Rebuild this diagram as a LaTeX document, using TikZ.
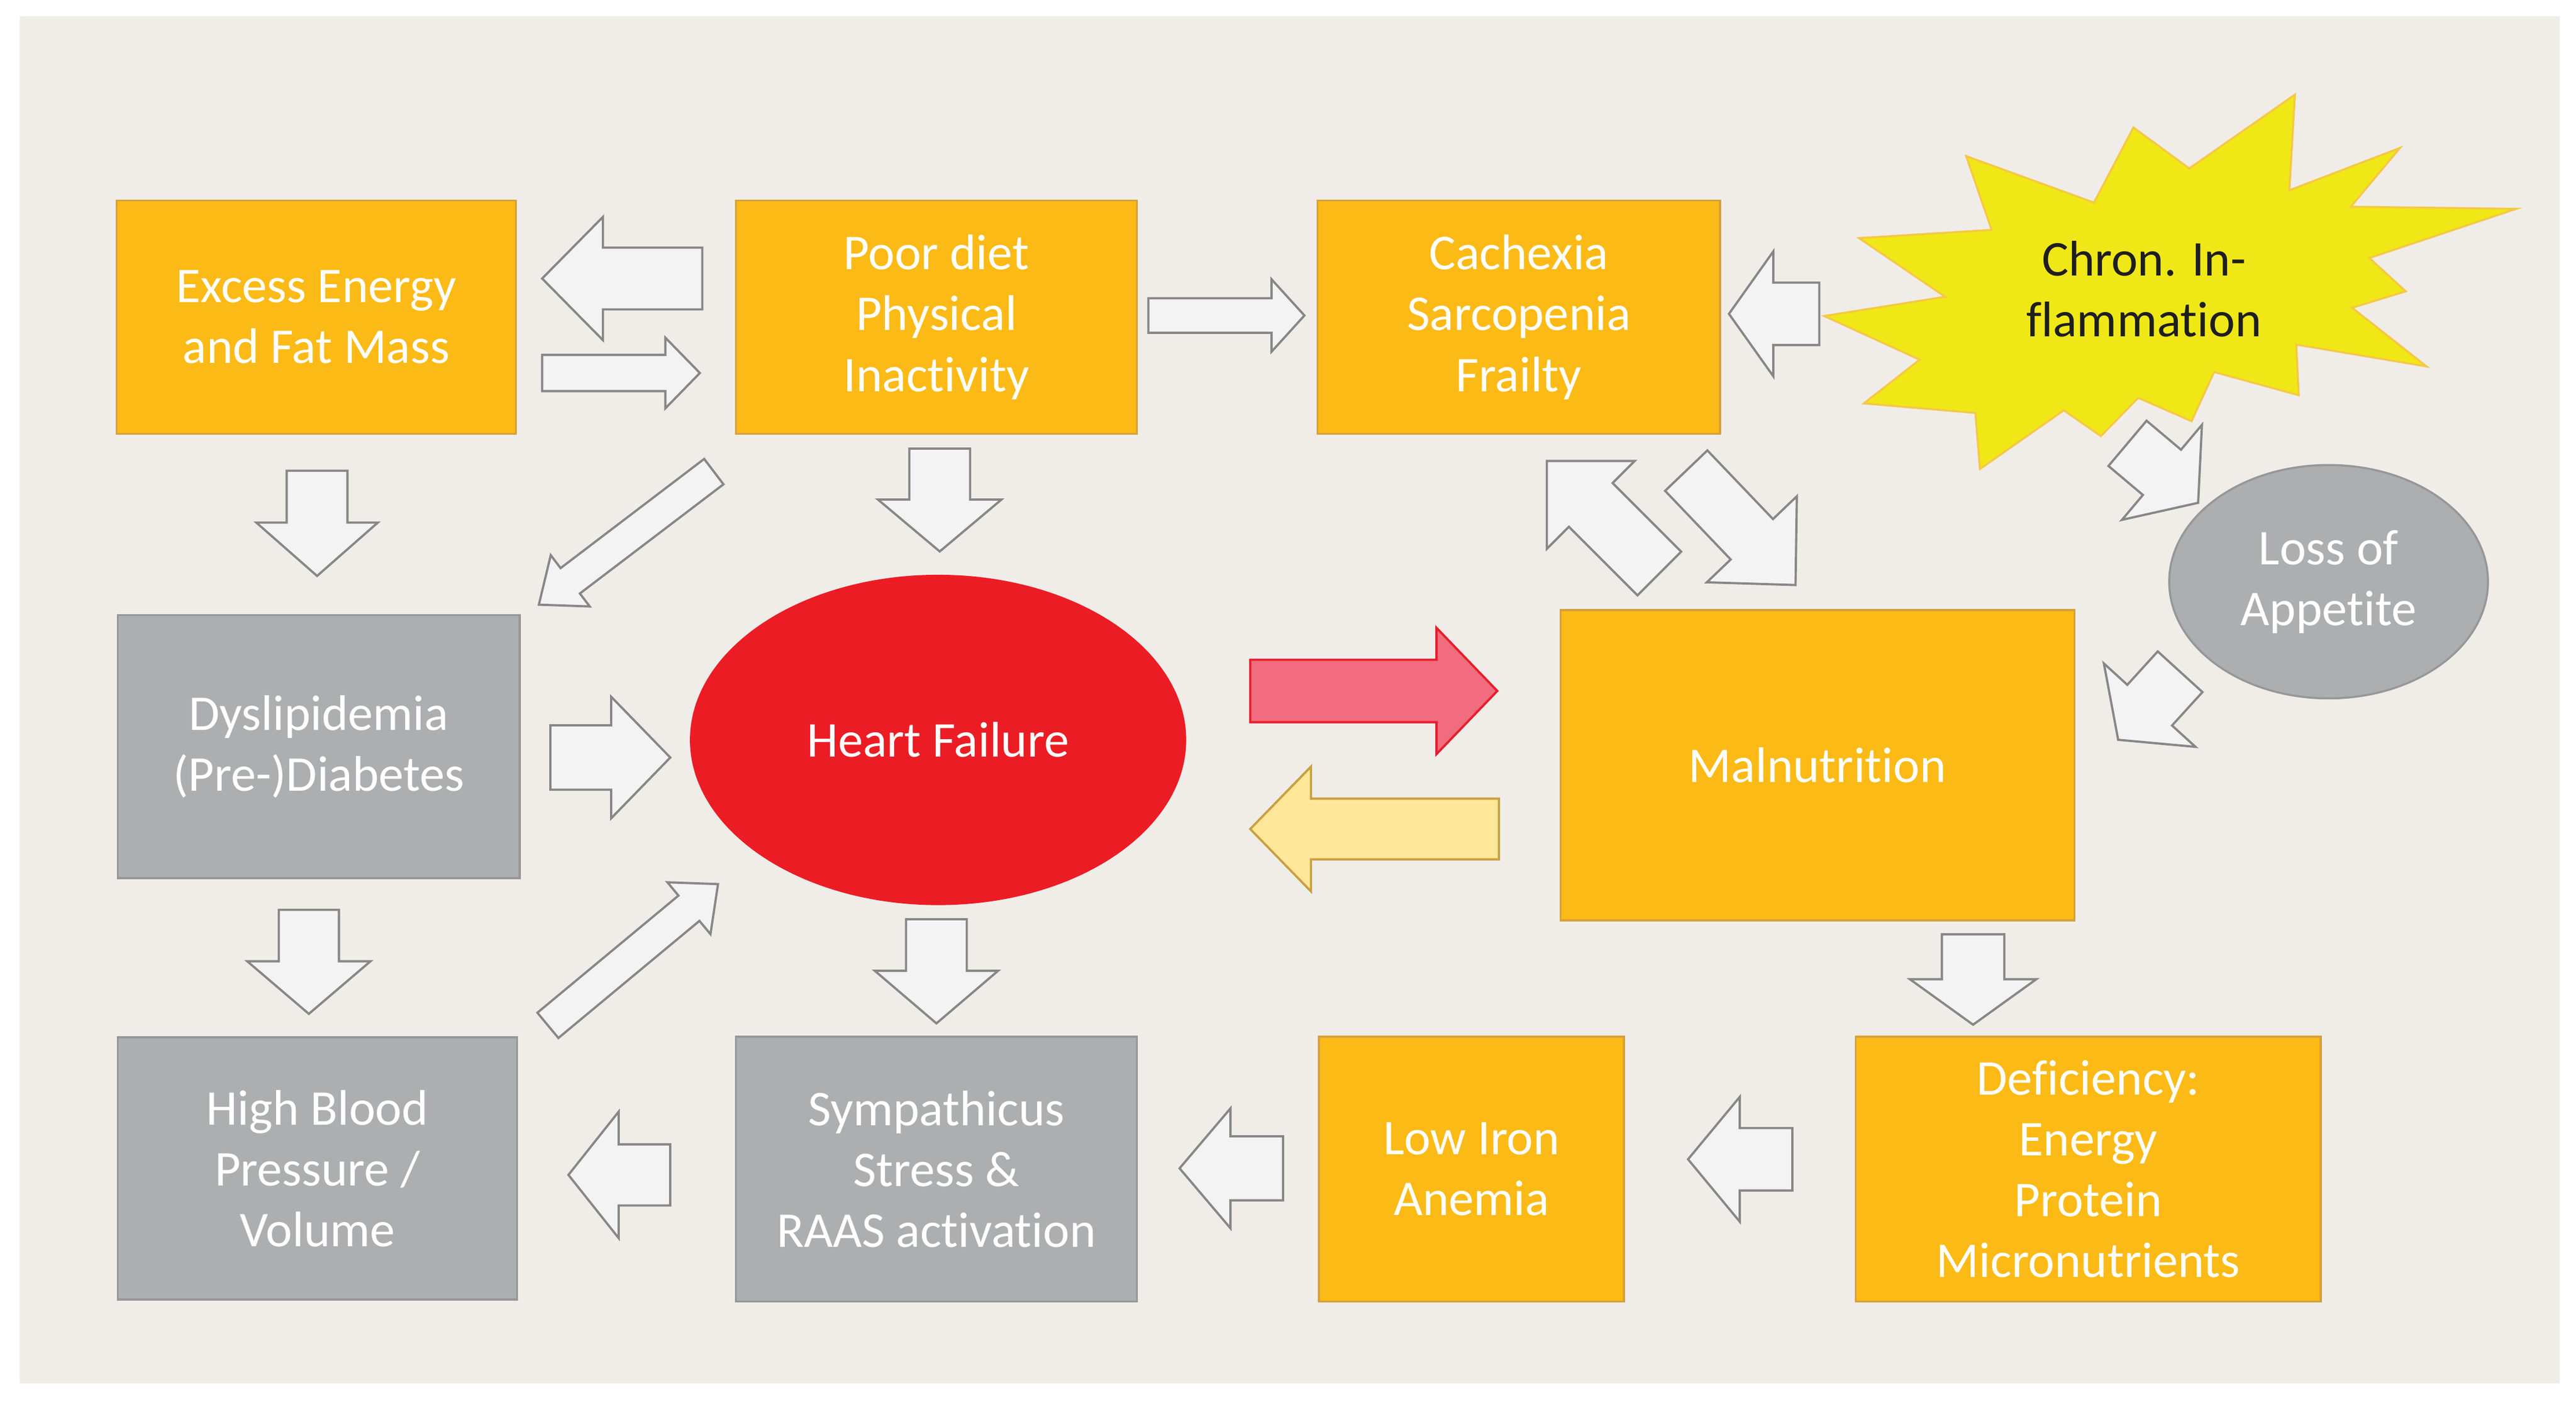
\documentclass[tikz,border=0pt]{standalone}
\usepackage{fontspec}
\setmainfont{Carlito}[Ligatures=NoCommon]
\usetikzlibrary{shapes.geometric}
\definecolor{bgcol}{RGB}{240,237,233}
\definecolor{orangefill}{RGB}{252,186,22}
\definecolor{orangeline}{RGB}{214,160,60}
\definecolor{grayfill}{RGB}{173,174,176}
\definecolor{grayline}{RGB}{150,151,153}
\definecolor{hfred}{RGB}{236,28,36}
\definecolor{arrfill}{RGB}{243,243,243}
\definecolor{arrline}{RGB}{135,135,135}
\definecolor{pinkfill}{RGB}{240,108,126}
\definecolor{pinkline}{RGB}{232,30,45}
\definecolor{lightyel}{RGB}{255,230,153}
\definecolor{yelline}{RGB}{200,160,64}
\definecolor{starfill}{RGB}{240,232,22}
\definecolor{starline}{RGB}{245,200,70}
\definecolor{darktext}{RGB}{30,30,30}
% block arrow: style, tail x, tail y, angle, length, shaft half, head half, head length
\newcommand\blockarr[8]{%
  \begin{scope}[shift={(#2,#3)},rotate=#4]
    \filldraw[#1] (0,-#6) -- ({#5-#8},-#6) -- ({#5-#8},-#7) -- (#5,0) -- ({#5-#8},#7) -- ({#5-#8},#6) -- (0,#6) -- cycle;
  \end{scope}}
\begin{document}
\begin{tikzpicture}[x=0.028387cm,y=-0.028387cm,
  txt/.style={font=\fontsize{24.6pt}{29.9pt}\selectfont, align=center, text=white, inner sep=0pt, outer sep=0pt},
  obox/.style={txt, rectangle, fill=orangefill, draw=orangeline, line width=1pt},
  gbox/.style={txt, rectangle, fill=grayfill, draw=grayline, line width=1pt},
  garrow/.style={fill=arrfill, draw=arrline, line width=1.1pt},
  rarrow/.style={fill=pinkfill, draw=pinkline, line width=1.1pt},
  yarrow/.style={fill=lightyel, draw=yelline, line width=1.1pt}]
\useasboundingbox (0,0) rectangle (1568,853.2);
\fill[white] (0,0) rectangle (1568,853.2);
\fill[bgcol] (12,10) rectangle (1558,842);

% boxes
\node[obox, minimum width=6.898cm, minimum height=4.031cm] (excess) at (192.5,193) {Excess Energy\\and Fat Mass};
\node[obox, minimum width=6.926cm, minimum height=4.031cm] (poor) at (570,193) {Poor diet\\Physical\\Inactivity};
\node[obox, minimum width=6.955cm, minimum height=4.031cm] (cach) at (924.5,193) {Cachexia\\Sarcopenia\\Frailty};
\node[gbox, minimum width=6.943cm, minimum height=4.542cm] (dysl) at (194,454.3) {Dyslipidemia\\(Pre-)Diabetes};
\node[gbox, minimum width=6.898cm, minimum height=4.528cm] (hbp) at (193.2,711.1) {High Blood\\Pressure /\\Volume};
\node[gbox, minimum width=6.926cm, minimum height=4.570cm] (symp) at (570,711.5) {Sympathicus\\Stress \&\\RAAS activation};
\node[obox, minimum width=5.266cm, minimum height=4.570cm] (iron) at (895.7,711.5) {Low Iron\\Anemia};
\node[obox, minimum width=8.034cm, minimum height=4.570cm] (defi) at (1271.1,711.5) {Deficiency:\\Energy\\Protein\\Micronutrients};
\node[obox, minimum width=8.877cm, minimum height=5.357cm] (maln) at (1106.3,465.7) {Malnutrition};
\node[txt, ellipse, fill=hfred, minimum width=8.573cm, minimum height=5.706cm] (hf) at (571,450.3) {Heart Failure};
\node[txt, ellipse, fill=grayfill, draw=grayline, line width=1pt, minimum width=5.507cm, minimum height=4.031cm] (loss) at (1417.4,354) {Loss of\\Appetite};

% star
\filldraw[fill=starfill, draw=starline, line width=1pt]
  (1396.9,57.6) -- (1393.5,115.8) -- (1460.9,90) -- (1430.9,125.8) -- (1531.6,127.1) -- (1442.2,157)
  -- (1464.3,177.3) -- (1431.7,187.3) -- (1477,223) -- (1397.7,209.7) -- (1399.2,240.5) -- (1347.7,226.4)
  -- (1334,256.3) -- (1301.5,242.1) -- (1278.8,265.4) -- (1256.2,249.7) -- (1205.2,285.4) -- (1202.4,251.3)
  -- (1134.5,245.5) -- (1168.5,218.9) -- (1110.4,192.3) -- (1184,180.6) -- (1131.6,144.9) -- (1212.3,139.9)
  -- (1196.8,95) -- (1274.6,123.3) -- (1298.6,77.6) -- (1332.6,102.5) -- cycle;
\node[txt, text=darktext] (infl) at (1305,176) {Chron. In-\\flammation};

% arrows
\blockarr{garrow}{427.5}{169.5}{180}{97.5}{18.8}{37.5}{37}
\blockarr{garrow}{330}{227}{0}{96}{11}{21.5}{21}
\blockarr{garrow}{699}{192}{0}{95}{10.5}{22}{20}
\blockarr{garrow}{1107.4}{191}{180}{55}{19}{38}{27}
\blockarr{garrow}{193}{286.5}{-90}{64}{18.5}{37}{32.5}
\blockarr{garrow}{572}{273}{-90}{62.6}{18.5}{37.6}{31.6}
\blockarr{garrow}{434.5}{287}{217.25}{133.8}{9.7}{19.6}{24}
\blockarr{garrow}{335}{461}{0}{73}{19.6}{37}{36}
\blockarr{garrow}{333.5}{624}{39.7}{134.6}{10}{20.5}{23}
\blockarr{garrow}{188}{553.7}{-90}{63.3}{18.3}{37.5}{32}
\blockarr{garrow}{570}{559.4}{-90}{63.4}{18.5}{37.5}{32}
\blockarr{garrow}{408}{715}{180}{62}{18.6}{38.5}{30.6}
\blockarr{garrow}{781}{711}{180}{63}{19.5}{36.5}{31}
\blockarr{garrow}{1091}{705.5}{180}{63.5}{19}{38}{31.5}
\blockarr{garrow}{1201}{568.6}{-90}{55}{19}{38.5}{27.7}
\blockarr{rarrow}{761}{420.5}{0}{150.4}{19}{38.4}{37}
\blockarr{yarrow}{912.4}{504.5}{180}{151.4}{18.5}{38}{37}
\blockarr{garrow}{1010}{349}{135}{96.8}{18.8}{37.8}{37.8}
\blockarr{garrow}{1026.4}{286.4}{-46.3}{96.3}{17.8}{37.9}{38.5}
\blockarr{garrow}{1295}{269.8}{-40.1}{56.2}{18}{37.8}{28.8}
\blockarr{garrow}{1327}{408.8}{-132.3}{56}{18.4}{37.7}{28.5}
\end{tikzpicture}
\end{document}
